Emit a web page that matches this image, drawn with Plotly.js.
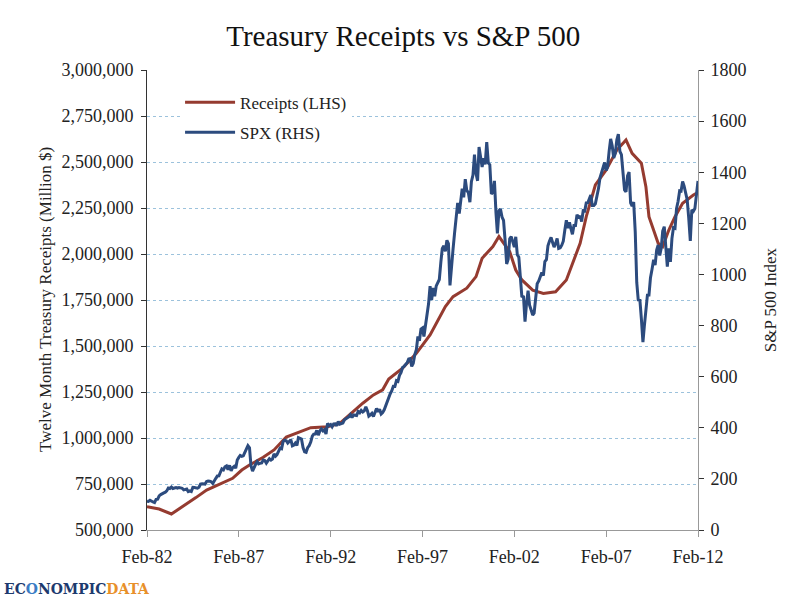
<!DOCTYPE html>
<html>
<head>
<meta charset="utf-8">
<script src="https://cdn.plot.ly/plotly-3.0.1.min.js"></script>
<style>
  body { margin: 0; background: #fff; }
  #chart { width: 800px; height: 604px; }
</style>
</head>
<body>
<div id="chart"></div>
<script>
// twelve month treasury receipts, million $
var receiptDates = ['1982-02', '1982-10', '1983-06', '1984-02', '1984-10', '1985-05',
  '1986-02', '1986-10', '1987-04', '1987-09', '1988-06', '1989-01', '1989-09',
  '1990-06', '1991-01', '1991-12', '1992-08', '1993-11', '1994-06', '1994-12',
  '1995-04', '1996-01', '1996-10', '1997-07', '1998-05', '1998-10', '1999-07',
  '2000-01', '2000-05', '2000-12', '2001-04', '2001-11', '2002-03', '2002-07',
  '2003-02', '2003-09', '2004-05', '2004-12', '2005-04', '2005-09', '2006-01',
  '2006-07', '2007-02', '2007-09', '2008-03', '2008-07', '2009-01', '2009-04',
  '2009-06', '2009-10', '2009-12', '2010-03', '2010-07', '2010-11', '2011-04',
  '2011-11', '2012-01'];
var receipts = [627000, 614000, 587000, 630000, 676000, 717000,
  750000, 781000, 826000, 853000, 895000, 935000, 1005000,
  1034000, 1056000, 1061000, 1080000, 1189000, 1234000, 1262000,
  1320000, 1379000, 1460000, 1560000, 1714000, 1768000, 1814000,
  1877000, 1977000, 2040000, 2095000, 2013000, 1913000, 1859000,
  1804000, 1786000, 1795000, 1859000, 1949000, 2058000, 2203000,
  2375000, 2457000, 2565000, 2620000, 2547000, 2493000, 2366000,
  2203000, 2113000, 2058000, 2040000, 2130000, 2203000, 2276000,
  2321000, 2330000];

// S&P 500 monthly, Feb-82 .. Feb-12
var spxStart = [1982, 2];
var spx = [
  113.1, 112.0, 116.4, 111.9, 109.6, 107.1, 119.5, 120.4, 133.7, 138.5, 140.6,
  145.3, 148.1, 153.0, 164.4, 162.4, 168.1, 162.6, 164.4, 166.1, 163.6, 166.4, 164.9,
  163.4, 157.1, 159.2, 160.1, 150.6, 153.2, 150.7, 166.7, 166.1, 166.1, 163.6, 167.2,
  179.6, 181.2, 180.7, 179.8, 189.6, 191.9, 190.9, 188.6, 182.1, 189.8, 202.2, 211.3,
  211.8, 226.9, 238.9, 235.5, 247.4, 250.8, 236.1, 252.9, 231.3, 244.0, 249.2, 242.2,
  274.1, 284.2, 291.7, 288.4, 290.1, 304.0, 318.7, 329.8, 321.8, 251.8, 230.3, 247.1,
  257.1, 267.8, 258.9, 261.3, 262.2, 273.5, 272.0, 261.5, 271.9, 279.0, 273.7, 277.7,
  297.5, 288.9, 294.9, 309.6, 320.5, 318.0, 346.1, 351.5, 349.2, 340.4, 346.0, 353.4,
  329.1, 331.9, 339.9, 330.8, 361.2, 358.0, 356.2, 322.6, 306.1, 304.0, 322.2, 330.2,
  343.9, 367.1, 375.2, 375.4, 389.8, 371.2, 387.8, 395.4, 387.9, 392.5, 375.2, 417.1,
  408.8, 412.7, 403.7, 415.0, 415.4, 408.1, 424.2, 414.0, 417.8, 418.7, 431.4, 435.7,
  438.8, 443.4, 451.7, 440.2, 450.2, 450.5, 448.1, 463.6, 458.9, 467.8, 461.8, 466.5,
  481.6, 467.1, 445.8, 450.9, 456.5, 444.3, 458.3, 475.5, 462.7, 472.4, 453.7, 459.3,
  470.4, 487.4, 500.7, 514.7, 533.4, 544.8, 562.1, 561.9, 584.4, 581.5, 605.4, 615.9,
  636.0, 640.4, 645.5, 654.2, 669.1, 670.6, 640.0, 652.0, 687.3, 705.3, 757.0, 740.7,
  786.2, 790.8, 757.1, 801.3, 848.3, 885.1, 954.3, 899.5, 947.3, 914.6, 955.4, 970.4,
  980.3, 1049.3, 1101.8, 1111.8, 1090.8, 1133.8, 1120.7, 957.3, 1017.0, 1098.7, 1163.6, 1229.2,
  1279.6, 1238.3, 1286.4, 1335.2, 1301.8, 1372.7, 1328.7, 1320.4, 1282.7, 1362.9, 1388.9, 1469.3,
  1394.5, 1366.4, 1498.6, 1452.4, 1420.6, 1454.6, 1430.8, 1517.7, 1436.5, 1429.4, 1315.0, 1320.3,
  1366.0, 1239.9, 1160.3, 1249.5, 1255.8, 1224.4, 1211.2, 1133.6, 1040.9, 1059.8, 1139.5, 1148.1,
  1130.2, 1106.7, 1147.4, 1076.9, 1067.1, 989.8, 911.6, 916.1, 815.3, 885.8, 936.3, 879.8,
  855.7, 841.2, 848.2, 916.9, 963.6, 974.5, 990.3, 1008.0, 996.0, 1050.7, 1058.2, 1111.9,
  1131.1, 1144.9, 1126.2, 1107.3, 1120.7, 1140.8, 1101.7, 1104.2, 1114.6, 1130.2, 1173.8, 1211.9,
  1181.3, 1203.6, 1180.6, 1156.9, 1191.5, 1191.3, 1234.2, 1220.3, 1228.8, 1207.0, 1249.5, 1248.3,
  1280.1, 1280.7, 1294.8, 1310.6, 1270.1, 1270.2, 1276.7, 1303.8, 1335.9, 1377.9, 1400.6, 1418.3,
  1438.2, 1406.8, 1420.9, 1482.4, 1530.6, 1503.4, 1455.3, 1474.0, 1526.8, 1549.4, 1481.1, 1468.4,
  1378.6, 1330.6, 1322.7, 1385.6, 1400.4, 1280.0, 1267.4, 1282.8, 1166.4, 968.8, 896.2, 903.3,
  825.9, 735.1, 797.9, 872.8, 919.1, 919.3, 987.5, 1020.6, 1057.1, 1036.2, 1095.6, 1115.1,
  1073.9, 1104.5, 1169.4, 1186.7, 1089.4, 1030.7, 1101.6, 1049.3, 1141.2, 1183.3, 1180.6, 1257.6,
  1286.1, 1327.2, 1325.8, 1363.6, 1345.2, 1320.6, 1292.3, 1218.9, 1131.4, 1253.3, 1247.0, 1257.6,
  1312.4, 1365.7
];

function monthDates(start, n) {
  var out = [];
  var y = start[0], m = start[1];
  for (var i = 0; i < n; i++) {
    out.push(y + '-' + (m < 10 ? '0' + m : m) + '-01');
    m++;
    if (m > 12) { m = 1; y++; }
  }
  return out;
}
var spxDates = monthDates(spxStart, spx.length);

var serif = 'Liberation Serif, Times New Roman, serif';

var traceReceipts = {
  x: receiptDates.map(function (d) { return d + '-01'; }),
  y: receipts,
  name: 'Receipts (LHS)',
  legendgroup: 'r',
  mode: 'lines',
  type: 'scatter',
  line: { color: '#953b30', width: 3 },
  yaxis: 'y'
};
var traceSpx = {
  x: spxDates,
  y: spx,
  name: 'SPX (RHS)',
  legendgroup: 's',
  mode: 'lines',
  type: 'scatter',
  line: { color: '#2c4b7e', width: 3 },
  yaxis: 'y2'
};

var layout = {
  width: 800,
  height: 604,
  margin: { l: 147, r: 102, t: 70, b: 74 },
  paper_bgcolor: '#fff',
  plot_bgcolor: '#fff',
  font: { family: serif, size: 18, color: '#222' },
  title: {
    text: 'Treasury Receipts vs S&P 500',
    font: { family: serif, size: 29, color: '#111' },
    x: 0.504, xanchor: 'center', y: 0.94, yanchor: 'middle'
  },
  showlegend: true,
  legend: {
    x: 0.06, y: 0.968, xanchor: 'left', yanchor: 'top',
    bgcolor: 'rgba(255,255,255,1)',
    itemwidth: 50,
    tracegroupgap: 5,
    font: { family: serif, size: 17, color: '#222' }
  },
  xaxis: {
    type: 'date',
    range: ['1982-02-01', '2012-02-01'],
    tick0: '1982-02-01',
    dtick: 'M60',
    tickformat: '%b-%y',
    ticks: 'outside',
    ticklen: 6,
    tickcolor: '#999',
    showline: true,
    linecolor: '#999',
    linewidth: 1,
    showgrid: false,
    zeroline: false,
    ticklabelstandoff: 4,
    tickfont: { family: serif, size: 18, color: '#222' }
  },
  yaxis: {
    range: [500000, 3000000],
    dtick: 250000,
    tickformat: ',d',
    ticks: 'outside',
    ticklen: 5,
    tickcolor: '#333',
    showline: true,
    linecolor: '#333',
    linewidth: 1,
    showgrid: true,
    gridcolor: '#9cc2dc',
    griddash: 'dot',
    gridwidth: 1,
    zeroline: false,
    ticklabelstandoff: 4,
    tickfont: { family: serif, size: 18, color: '#222' }
  },
  yaxis2: {
    overlaying: 'y',
    side: 'right',
    range: [0, 1800],
    dtick: 200,
    ticks: 'outside',
    ticklen: 5,
    tickcolor: '#333',
    showline: true,
    linecolor: '#999',
    linewidth: 1,
    showgrid: false,
    zeroline: false,
    ticklabelstandoff: 3,
    tickfont: { family: serif, size: 18, color: '#222' }
  },
  annotations: [{
    xref: 'paper', yref: 'paper',
    x: -0.185, y: 0.5, xanchor: 'center', yanchor: 'middle',
    textangle: -90, showarrow: false,
    text: 'Twelve Month Treasury Receipts (Million $)',
    font: { family: serif, size: 17, color: '#222' }
  }, {
    xref: 'paper', yref: 'paper',
    x: 1.131, y: 0.5, xanchor: 'center', yanchor: 'middle',
    textangle: -90, showarrow: false,
    text: 'S&P 500 Index',
    font: { family: serif, size: 17, color: '#222' }
  }, {
    xref: 'paper', yref: 'paper',
    x: -0.264, y: -0.127, xanchor: 'left', yanchor: 'middle',
    showarrow: false,
    text: '<b><span style="color:#1d3a6e">EC</span><span style="color:#3a7cc4">O</span>' +
      '<span style="color:#1d3a6e">NOMPIC</span><span style="color:#e8902a">DATA</span></b>',
    font: { family: 'DejaVu Serif Condensed, DejaVu Serif, serif', size: 15.5 }
  }]
};

Plotly.newPlot('chart', [traceReceipts, traceSpx], layout, { displayModeBar: false, staticPlot: true });
</script>
</body>
</html>
